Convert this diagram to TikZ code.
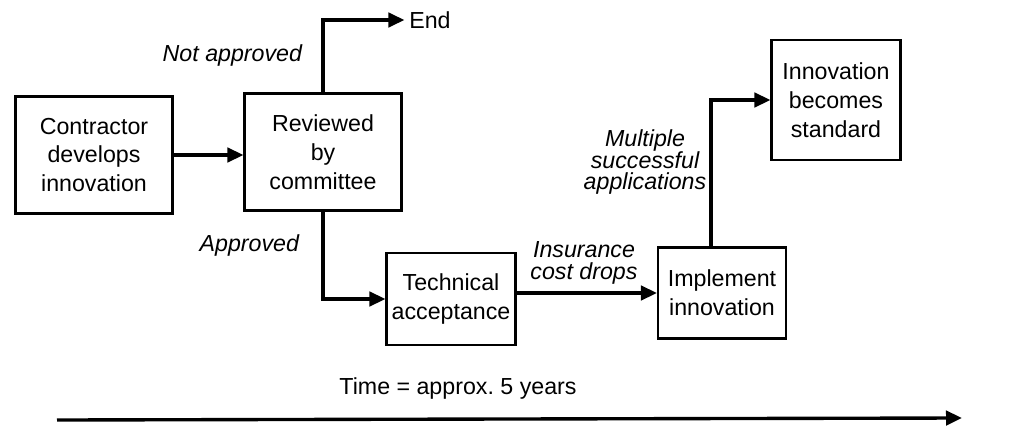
\documentclass[tikz,border=0pt]{standalone}
\usepackage{fontspec}
\setmainfont{Liberation Sans}
\usepackage{tikz}
\usetikzlibrary{positioning, arrows.meta, calc}

\begin{document}
\begin{tikzpicture}[x=0.025cm, y=-0.025cm]
        \tikzset{
            process box/.style={
                    draw=black, line width=1.5pt, align=center, inner sep=2pt,
                    font=\fontsize{16.5}{20.6}\selectfont
                },
            flow arrow/.style={
                    line width=2.4pt, -{Triangle[length=0.4cm, width=0.36cm]}
                },
            branch label/.style={
                    font=\fontsize{16.5}{15.5}\selectfont\itshape, align=center
                },
            plain label/.style={
                    font=\fontsize{16.5}{20.6}\selectfont
                }
        }
        \useasboundingbox (0,0) rectangle (1013,428);

        % boxes
        \node[process box, minimum width=3.925cm, minimum height=2.925cm] (contractor) at (94,155) {Contractor\\develops\\innovation};
        \node[process box, minimum width=3.925cm, minimum height=2.925cm] (reviewed) at (323,152) {Reviewed\\by\\committee};
        \node[process box, minimum width=3.225cm, minimum height=2.3cm] (technical) at (451,299) {Technical\\acceptance};
        \node[process box, minimum width=3.2cm, minimum height=2.275cm] (implement) at (722,293) {Implement\\innovation};
        \node[process box, minimum width=3.225cm, minimum height=3.0cm] (standard) at (836,100) {Innovation\\becomes\\standard};
        \node[plain label] (end) at (430,20) {End};

        % labels
        \node[branch label, anchor=east] (not approved) at (307,55) {Not approved};
        \node[branch label, anchor=east] (approved) at (304,245) {Approved};
        \node[branch label] (insurance) at (584,263) {Insurance\\cost drops};
        \node[branch label] (multiple) at (645,162) {Multiple\\successful\\applications};
        \node[plain label] (time) at (458,388) {Time = approx.\ 5 years};

        % connectors
        \draw[flow arrow] (contractor.east) -- (reviewed.west |- contractor.east);
        \draw[flow arrow] (reviewed.north) |- (end.west);
        \draw[flow arrow] (reviewed.south) |- (technical.west);
        \draw[flow arrow] (technical.east |- implement.west) -- (implement.west);
        \draw[flow arrow] ([xshift=-0.275cm]implement.north) |- (standard.west);

        \coordinate (time start) at (57,420);
        \coordinate (time end) at (962,418);
        \draw[flow arrow] (time start) -- (time end);
\end{tikzpicture}
\end{document}
